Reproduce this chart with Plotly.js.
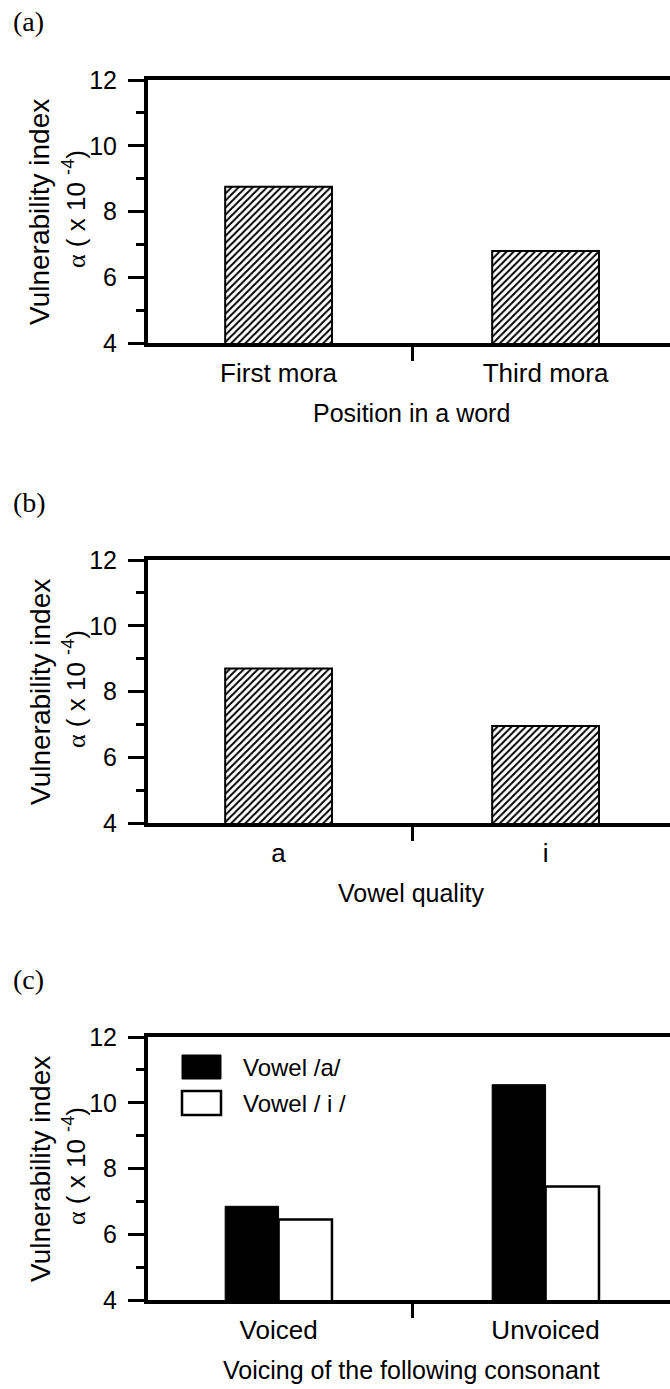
<!DOCTYPE html>
<html>
<head>
<meta charset="utf-8">
<script src="https://cdn.plot.ly/plotly-3.0.1.min.js"></script>
<style>
  html, body { margin: 0; padding: 0; background: #fff; }
  #chart { width: 670px; height: 1389px; }
</style>
</head>
<body>
<div id="chart"></div>
<script>
// (a) position of the vowel in the word
const positionCats = ['First mora', 'Third mora'];
const positionVals = [8.75, 6.8];

// (b) vowel quality
const vowelCats = ['a', 'i'];
const vowelVals = [8.7, 6.95];

// (c) voicing of the following consonant, split by vowel
const voicingCats = ['Voiced', 'Unvoiced'];
const seriesNames = ['Vowel /a/', 'Vowel / i /'];
const vowelAVals = [6.85, 10.55];
const vowelIVals = [6.45, 7.45];

const panelLabels = ['(a)', '(b)', '(c)'];
const xTitles = ['Position in a word', 'Vowel quality', 'Voicing of the following consonant'];
const yTitle1 = 'Vulnerability index';
const yTitle2 = '<span style="font-family:\'Liberation Serif\'">α</span> ( x 10 <sup>-4</sup>)';
const yTicks = [4, 6, 8, 10, 12];

// page geometry (pixels)
const W = 670, H = 1389, ML = 148, MR = 0;
const PW = W - ML - MR;
const px = v => (v - ML) / PW;
const py = v => 1 - v / H;
const offsets = [0, 480, 957];
const PLOT_TOP = 80, PLOT_BOT = 343;

const SANS = 'Liberation Sans, Arial, sans-serif';
const SERIF = 'Liberation Serif, Times New Roman, serif';

const hatch = { shape: '/', fgcolor: '#000', bgcolor: '#fff', size: 5, solidity: 0.4 };

const traces = [
  { type: 'bar', x: positionCats, y: positionVals, xaxis: 'x', yaxis: 'y',
    marker: { color: '#fff', pattern: hatch, line: { color: '#000', width: 2 } },
    showlegend: false, hoverinfo: 'x+y' },
  { type: 'bar', x: vowelCats, y: vowelVals, xaxis: 'x2', yaxis: 'y2',
    marker: { color: '#fff', pattern: hatch, line: { color: '#000', width: 2 } },
    showlegend: false, hoverinfo: 'x+y' },
  { type: 'bar', name: seriesNames[0], x: voicingCats, y: vowelAVals, xaxis: 'x3', yaxis: 'y3',
    marker: { color: '#000', line: { color: '#000', width: 1 } }, showlegend: false },
  { type: 'bar', name: seriesNames[1], x: voicingCats, y: vowelIVals, xaxis: 'x3', yaxis: 'y3',
    marker: { color: '#fff', line: { color: '#000', width: 2.5 } }, showlegend: false }
];

function xAxis() {
  return {
    type: 'category', range: [-0.489, 1.466], fixedrange: true,
    showline: true, linewidth: 4, linecolor: '#000', mirror: true,
    ticks: 'outside', tickson: 'boundaries', ticklen: 14, tickwidth: 3, tickcolor: '#000',
    ticklabelstandoff: 4,
    tickfont: { family: SANS, size: 26, color: '#000' },
    showgrid: false, zeroline: false
  };
}
function yAxis(i) {
  const off = offsets[i];
  return {
    domain: [py(PLOT_BOT + off), py(PLOT_TOP + off)],
    range: [4, 12], fixedrange: true, tickvals: yTicks,
    showline: true, linewidth: 4, linecolor: '#000', mirror: false,
    ticks: 'outside', ticklen: 16, tickwidth: 3, tickcolor: '#000',
    ticklabelstandoff: 6,
    minor: { dtick: 1, tick0: 4, ticks: 'outside', ticklen: 8, tickwidth: 3, tickcolor: '#000', showgrid: false },
    tickfont: { family: SANS, size: 25, color: '#000' },
    showgrid: false, zeroline: false
  };
}

const annotations = [];
const shapes = [];
for (let i = 0; i < 3; i++) {
  const off = offsets[i];
  annotations.push({ text: panelLabels[i], xref: 'paper', yref: 'paper',
    x: px(11), y: py(22 + off), xanchor: 'left', yanchor: 'middle', showarrow: false,
    font: { family: SERIF, size: 28, color: '#000' } });
  annotations.push({ text: yTitle1, xref: 'paper', yref: 'paper', textangle: -90,
    x: px(40), y: py(212 + off), xanchor: 'center', yanchor: 'middle', showarrow: false,
    font: { family: SANS, size: 28, color: '#000' } });
  annotations.push({ text: yTitle2, xref: 'paper', yref: 'paper', textangle: -90,
    x: px(74), y: py(209 + off), xanchor: 'center', yanchor: 'middle', showarrow: false,
    font: { family: SANS, size: 26, color: '#000' } });
  annotations.push({ text: xTitles[i], xref: 'paper', yref: 'paper',
    x: px(411), y: py(413 + off), xanchor: 'center', yanchor: 'middle', showarrow: false,
    font: { family: SANS, size: 25, color: '#000' } });
}

// legend of panel (c)
const legOff = offsets[2];
const legendFills = ['#000', '#fff'];
const legendRows = [1055 - 957, 1091 - 957];
for (let k = 0; k < 2; k++) {
  const top = legendRows[k] + legOff;
  shapes.push({ type: 'rect', xref: 'paper', yref: 'paper',
    x0: px(182), x1: px(221), y0: py(top + 24), y1: py(top),
    fillcolor: legendFills[k], line: { color: '#000', width: k === 0 ? 1 : 2.5 } });
  annotations.push({ text: seriesNames[k], xref: 'paper', yref: 'paper',
    x: px(241), y: py(top + 12), xanchor: 'left', yanchor: 'middle', showarrow: false,
    font: { family: SANS, size: 24, color: '#000' } });
}

const layout = {
  width: W, height: H,
  margin: { l: ML, r: MR, t: 0, b: 0, autoexpand: false },
  paper_bgcolor: '#fff', plot_bgcolor: '#fff',
  bargap: 0.6, bargroupgap: 0, barmode: 'group',
  showlegend: false,
  xaxis: Object.assign(xAxis(), { anchor: 'y' }),
  yaxis: Object.assign(yAxis(0), { anchor: 'x' }),
  xaxis2: Object.assign(xAxis(), { anchor: 'y2' }),
  yaxis2: Object.assign(yAxis(1), { anchor: 'x2' }),
  xaxis3: Object.assign(xAxis(), { anchor: 'y3' }),
  yaxis3: Object.assign(yAxis(2), { anchor: 'x3' }),
  annotations: annotations,
  shapes: shapes
};

Plotly.newPlot('chart', traces, layout, { displayModeBar: false, staticPlot: true });
</script>
</body>
</html>
